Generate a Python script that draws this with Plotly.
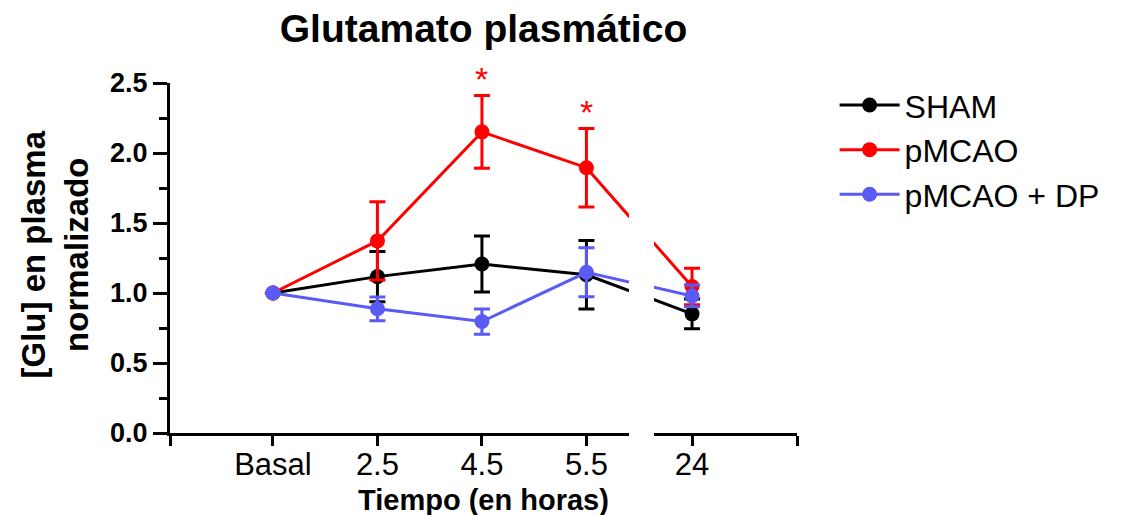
import plotly.graph_objects as go

# ---------------- data ----------------
categories = ["Basal", "2.5", "4.5", "5.5", "24"]
positions = [0, 1, 2, 3, 4]          # category slots (axis is broken between 5.5 and 24)

sham_mean = [1.00, 1.117, 1.207, 1.130, 0.851]
sham_sem = [None, 0.18, 0.20, 0.245, 0.107]

pmcao_mean = [1.00, 1.372, 2.151, 1.895, 1.046]
pmcao_sem = [None, 0.28, 0.26, 0.28, 0.13]
pmcao_signif = [False, False, True, True, False]

dp_mean = [1.00, 0.887, 0.796, 1.148, 0.979]
dp_sem = [None, 0.085, 0.09, 0.175, 0.078]

y_ticks = [0.0, 0.5, 1.0, 1.5, 2.0, 2.5]

series = [
    ("SHAM", sham_mean, sham_sem, "#000000"),
    ("pMCAO", pmcao_mean, pmcao_sem, "#ff0000"),
    ("pMCAO + DP", dp_mean, dp_sem, "#5a5af5"),
]

FONT = "Liberation Sans"

# axis geometry (broken x axis)
Y_MAX = 2.5
r1 = [-0.985, 3.407]
r2 = [3.636, 5.005]
d1 = [0.0, 0.732]
d2 = [0.772, 1.0]

fig = go.Figure()
for xa, show in (("x", True), ("x2", False)):
    for name, mean, sem, col in series:
        fig.add_trace(go.Scatter(
            x=positions, y=mean, name=name, legendgroup=name, showlegend=show,
            xaxis=xa, yaxis="y", mode="lines+markers",
            line=dict(color=col, width=3),
            marker=dict(size=15, color=col, line=dict(width=0)),
            error_y=dict(type="data", array=sem, visible=True, color=col,
                         thickness=3, width=8),
        ))

# significance asterisks (paper y so they may sit above the axis top)
for p, m, s, sig in zip(positions, pmcao_mean, pmcao_sem, pmcao_signif):
    if sig:
        fig.add_annotation(x=p, y=(m + s + 0.12) / Y_MAX, xref="x", yref="paper",
                           text="*", showarrow=False, yanchor="middle",
                           font=dict(family=FONT, size=34, color="#ff0000"))

axis_common = dict(
    showline=True, linewidth=3, linecolor="black", showgrid=False, zeroline=False,
    ticks="outside", ticklen=10, tickwidth=3, tickcolor="black",
    ticklabelstandoff=-8,
    tickfont=dict(family=FONT, size=31, color="black"), anchor="y",
)

fig.update_layout(
    width=1122, height=515,
    margin=dict(l=170, r=325, t=83, b=82),
    paper_bgcolor="white", plot_bgcolor="white",
    title=dict(text="Glutamato plasmático", x=0.5, xref="paper", xanchor="center",
               y=1 - 28 / 515, yref="container", yanchor="middle",
               font=dict(family=FONT, size=39, color="black", weight="bold")),
    xaxis=dict(domain=d1, range=r1, tickmode="array",
               tickvals=[r1[0]] + positions[:4], ticktext=[""] + categories[:4],
               **axis_common),
    xaxis2=dict(domain=d2, range=r2, tickmode="array",
                tickvals=[positions[4], r2[1]], ticktext=[categories[4], ""],
                **axis_common),
    yaxis=dict(range=[0, Y_MAX], tickmode="array", tickvals=y_ticks, tickformat=".1f",
               showline=True, linewidth=3, linecolor="black", showgrid=False,
               zeroline=False, ticks="outside", ticklen=14, tickwidth=3,
               tickcolor="black", anchor="x",
               minor=dict(dtick=0.25, ticks="outside", ticklen=8, tickwidth=3,
                          tickcolor="black", showgrid=False),
               tickfont=dict(family=FONT, size=27, color="black", weight="bold")),
    legend=dict(x=1.06, xanchor="left", y=1.015, yanchor="top",
                font=dict(family=FONT, size=32, color="black"),
                itemwidth=60,
                bgcolor="rgba(0,0,0,0)", tracegroupgap=0),
    showlegend=True,
)

# y axis title (two lines, rotated)
fig.add_annotation(text="[Glu] en plasma<br>normalizado", xref="paper", yref="paper",
                   x=-0.184, y=0.509, xanchor="center", yanchor="middle",
                   textangle=-90, showarrow=False,
                   font=dict(family=FONT, size=33, color="black", weight="bold"))
# x axis title
fig.add_annotation(text="Tiempo (en horas)", xref="paper", yref="paper",
                   x=0.5, y=-0.19, xanchor="center", yanchor="middle",
                   showarrow=False,
                   font=dict(family=FONT, size=29, color="black", weight="bold"))

fig.write_html("out.html")
